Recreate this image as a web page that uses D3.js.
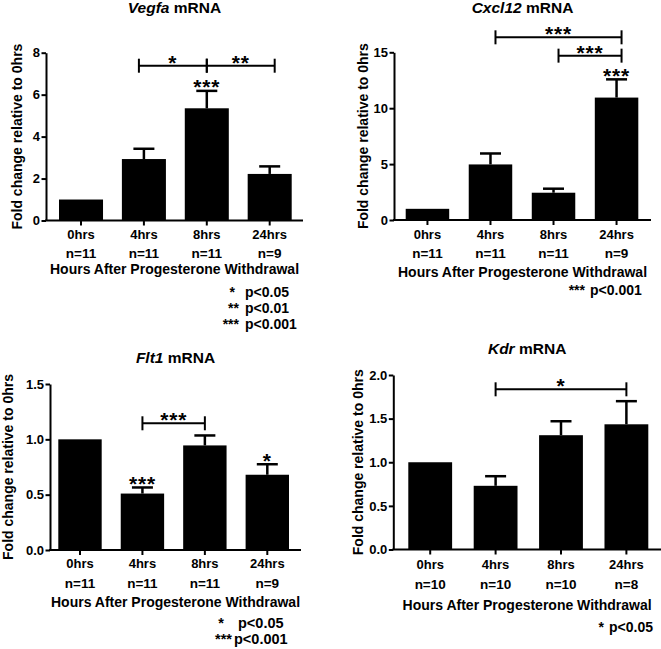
<!DOCTYPE html>
<html><head><meta charset="utf-8">
<script src="https://cdn.jsdelivr.net/npm/d3@7/dist/d3.min.js"></script>
<style>
body{margin:0;background:#fff;}
svg{display:block;font-family:"Liberation Sans",Arial,sans-serif;font-weight:bold;}
</style></head><body>
<svg id="c" width="661" height="649"></svg>
<script>
// ---------- DATA ----------
const categories = ["0hrs", "4hrs", "8hrs", "24hrs"];
const yLabel = "Fold change relative to 0hrs";
const xLabel = "Hours After Progesterone Withdrawal";

const vegfaMean = [1.0, 2.93, 5.35, 2.22];
const vegfaSem  = [0, 0.49, 0.83, 0.36];
const vegfaN    = ["n=11", "n=11", "n=11", "n=9"];
const vegfaTicks = [0, 2, 4, 6, 8];
const vegfaBrackets = [
  {from: "4hrs", to: "8hrs", level: 7.38, label: "*"},
  {from: "8hrs", to: "24hrs", level: 7.38, label: "**"}
];
const vegfaBarStars = [{cat: "8hrs", label: "***"}];
const vegfaLegendStars = ["*", "**", "***"];
const vegfaLegendText  = ["p<0.05", "p<0.01", "p<0.001"];

const cxcl12Mean = [1.0, 4.97, 2.44, 10.95];
const cxcl12Sem  = [0, 0.98, 0.36, 1.63];
const cxcl12N    = ["n=11", "n=11", "n=11", "n=9"];
const cxcl12Ticks = [0, 5, 10, 15];
const cxcl12Brackets = [
  {from: "4hrs", to: "24hrs", level: 16.34, label: "***"},
  {from: "8hrs", to: "24hrs", level: 14.7, label: "***"}
];
const cxcl12BarStars = [{cat: "24hrs", label: "***"}];
const cxcl12LegendStars = ["***"];
const cxcl12LegendText  = ["p<0.001"];

const flt1Mean = [1.0, 0.51, 0.945, 0.68];
const flt1Sem  = [0, 0.055, 0.09, 0.095];
const flt1N    = ["n=11", "n=11", "n=11", "n=9"];
const flt1Ticks = [0, 0.5, 1.0, 1.5];
const flt1Brackets = [
  {from: "4hrs", to: "8hrs", level: 1.145, label: "***"}
];
const flt1BarStars = [{cat: "4hrs", label: "***"}, {cat: "24hrs", label: "*"}];
const flt1LegendStars = ["*", "***"];
const flt1LegendText  = ["p<0.05", "p<0.001"];

const kdrMean = [1.0, 0.73, 1.31, 1.435];
const kdrSem  = [0, 0.11, 0.16, 0.265];
const kdrN    = ["n=10", "n=10", "n=10", "n=8"];
const kdrTicks = [0, 0.5, 1.0, 1.5, 2.0];
const kdrBrackets = [
  {from: "4hrs", to: "24hrs", level: 1.836, label: "*"}
];
const kdrBarStars = [];
const kdrLegendStars = ["*"];
const kdrLegendText  = ["p<0.05"];

// ---------- LAYOUT ----------
const panels = [
  {gene: "Vegfa", mean: vegfaMean, sem: vegfaSem, n: vegfaN, ticks: vegfaTicks, fmt: d3.format("d"),
   brackets: vegfaBrackets, barStars: vegfaBarStars, lStars: vegfaLegendStars, lText: vegfaLegendText,
   L: {yAxisX: 46, xEnd: 303, band: [59, 291.7], pi: 0.30, yRange: [220.5, 52.7],
       ylabX: 21.7, catY: 239.3, nY: 258.3, hoursY: 274, titleY: 12.5,
       starX: [235, 239, 239], starAnchor: "end", textX: [245, 245, 245], lfs: 14, rowY: [297, 313, 329], bdx: 0, bext: 5}},
  {gene: "Cxcl12", mean: cxcl12Mean, sem: cxcl12Sem, n: cxcl12N, ticks: cxcl12Ticks, fmt: d3.format("d"),
   brackets: cxcl12Brackets, barStars: cxcl12BarStars, lStars: cxcl12LegendStars, lText: cxcl12LegendText,
   L: {yAxisX: 394, xEnd: 651, band: [405.7, 638.3], pi: 0.31, yRange: [220, 52.3],
       ylabX: 368.3, catY: 239.3, nY: 258.3, hoursY: 277, titleY: 12.5,
       starX: [585], starAnchor: "end", textX: [590], lfs: 14, rowY: [295], bdx: 5, bext: 0}},
  {gene: "Flt1", mean: flt1Mean, sem: flt1Sem, n: flt1N, ticks: flt1Ticks, fmt: d3.format(".1f"),
   brackets: flt1Brackets, barStars: flt1BarStars, lStars: flt1LegendStars, lText: flt1LegendText,
   L: {yAxisX: 50, xEnd: 301, band: [58.3, 289], pi: 0.305, yRange: [550, 384],
       ylabX: 13.3, catY: 567.7, nY: 588, hoursY: 606.7, titleY: 363,
       starX: [224, 232], starAnchor: "end", textX: [238, 234], lfs: 14.5, rowY: [628, 644], bdx: 0, bext: 0}},
  {gene: "Kdr", mean: kdrMean, sem: kdrSem, n: kdrN, ticks: kdrTicks, fmt: d3.format(".1f"),
   brackets: kdrBrackets, barStars: kdrBarStars, lStars: kdrLegendStars, lText: kdrLegendText,
   L: {yAxisX: 393.3, xEnd: 661, band: [408.3, 648.3], pi: 0.33, yRange: [549.5, 375],
       ylabX: 362.7, catY: 569, nY: 589, hoursY: 610, titleY: 353.5,
       starX: [604], starAnchor: "end", textX: [609], lfs: 14, rowY: [632], bdx: 0, bext: 0}}
];

const svg = d3.select("#c");

panels.forEach(p => {
  const L = p.L;
  const g = svg.append("g");
  const x = d3.scaleBand().domain(categories).range(L.band).paddingInner(L.pi).paddingOuter(0);
  const y = d3.scaleLinear().domain([0, p.ticks[p.ticks.length - 1]]).range(L.yRange);
  const cx = c => x(c) + x.bandwidth() / 2;
  const midX = (L.yAxisX + L.xEnd) / 2;

  // bars
  g.selectAll("rect.bar").data(categories).join("rect")
    .attr("x", c => x(c)).attr("width", x.bandwidth())
    .attr("y", (c, i) => y(p.mean[i])).attr("height", (c, i) => y(0) - y(p.mean[i]))
    .attr("fill", "#000");

  // error bars (upper only)
  categories.forEach((c, i) => {
    if (!p.sem[i]) return;
    const yt = y(p.mean[i] + p.sem[i]);
    g.append("line").attr("x1", cx(c)).attr("x2", cx(c)).attr("y1", y(p.mean[i])).attr("y2", yt)
      .attr("stroke", "#000").attr("stroke-width", 2.5);
    g.append("line").attr("x1", cx(c) - 10.5).attr("x2", cx(c) + 10.5).attr("y1", yt).attr("y2", yt)
      .attr("stroke", "#000").attr("stroke-width", 2.5);
  });

  // y axis
  const ya = g.append("g").attr("transform", `translate(${L.yAxisX},0)`)
    .call(d3.axisLeft(y).tickValues(p.ticks).tickFormat(p.fmt).tickSize(4.5).tickPadding(1.5).tickSizeOuter(0));
  ya.select(".domain").attr("stroke-width", 2);
  ya.selectAll(".tick line").attr("stroke-width", 2);
  ya.selectAll(".tick text").attr("font-size", 13).attr("font-weight", "bold")
    .attr("font-family", "Liberation Sans, Arial, sans-serif").attr("fill", "#000");

  // x axis line + ticks
  g.append("line").attr("x1", L.yAxisX - 1).attr("x2", L.xEnd).attr("y1", y(0)).attr("y2", y(0))
    .attr("stroke", "#000").attr("stroke-width", 2);
  g.selectAll("line.xt").data(categories).join("line")
    .attr("x1", cx).attr("x2", cx).attr("y1", y(0)).attr("y2", y(0) + 5)
    .attr("stroke", "#000").attr("stroke-width", 2);
  g.selectAll("text.cat").data(categories).join("text")
    .attr("x", cx).attr("y", L.catY).attr("text-anchor", "middle").attr("font-size", 13).text(d => d);
  g.selectAll("text.nn").data(p.n).join("text")
    .attr("x", (d, i) => cx(categories[i])).attr("y", L.nY).attr("text-anchor", "middle").attr("font-size", 13.5).text(d => d);
  g.append("text").attr("x", midX).attr("y", L.hoursY).attr("text-anchor", "middle").attr("font-size", 14).text(xLabel);

  // y label
  const yMid = (L.yRange[0] + L.yRange[1]) / 2;
  g.append("text").attr("transform", `translate(${L.ylabX},${yMid}) rotate(-90)`)
    .attr("text-anchor", "middle").attr("font-size", 14).text(yLabel);

  // title
  const t = g.append("text").attr("x", midX).attr("y", L.titleY).attr("text-anchor", "middle").attr("font-size", 15.5);
  t.append("tspan").attr("font-style", "italic").text(p.gene);
  t.append("tspan").text(" mRNA");

  // brackets
  const allX = p.brackets.flatMap(b => [cx(b.from), cx(b.to)]);
  const minX = d3.min(allX), maxX = d3.max(allX);
  p.brackets.forEach(b => {
    const yb = y(b.level);
    let x1 = cx(b.from) + L.bdx, x2 = cx(b.to) + L.bdx;
    if (cx(b.from) === minX) x1 -= L.bext;
    if (cx(b.to) === maxX) x2 += L.bext;
    g.append("line").attr("x1", x1).attr("x2", x2).attr("y1", yb).attr("y2", yb).attr("stroke", "#000").attr("stroke-width", 2);
    [x1, x2].forEach(xx => g.append("line").attr("x1", xx).attr("x2", xx).attr("y1", yb - 7).attr("y2", yb + 7)
      .attr("stroke", "#000").attr("stroke-width", 2));
    g.append("text").attr("x", (x1 + x2) / 2).attr("y", yb + 4).attr("text-anchor", "middle")
      .attr("font-size", 21).attr("letter-spacing", 0.8).text(b.label);
  });

  // stars above bars
  p.barStars.forEach(s => {
    const i = categories.indexOf(s.cat);
    const yt = y(p.mean[i] + p.sem[i]);
    g.append("text").attr("x", cx(s.cat)).attr("y", yt + 3.5).attr("text-anchor", "middle")
      .attr("font-size", 21).attr("letter-spacing", 0.8).text(s.label);
  });

  // legend
  p.lStars.forEach((s, i) => {
    g.append("text").attr("x", L.starX[i]).attr("y", L.rowY[i]).attr("text-anchor", L.starAnchor)
      .attr("font-size", L.lfs).text(s);
    g.append("text").attr("x", L.textX[i]).attr("y", L.rowY[i]).attr("font-size", L.lfs).text(p.lText[i]);
  });
});
</script>
</body></html>
